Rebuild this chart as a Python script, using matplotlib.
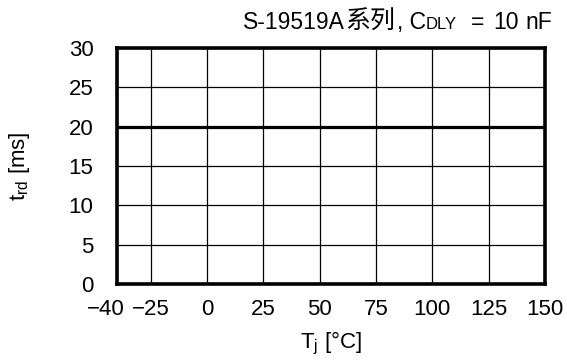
import numpy as np
import matplotlib
matplotlib.use('Agg')
import matplotlib.pyplot as plt
import matplotlib.transforms as mtransforms

plt.rcParams['font.family'] = ['Liberation Sans', 'Noto Sans CJK SC', 'DejaVu Sans']
plt.rcParams['mathtext.fontset'] = 'custom'
plt.rcParams['mathtext.rm'] = 'Liberation Sans'
plt.rcParams['mathtext.default'] = 'regular'

# data
temp = [-40, 150]
t_rd = [20, 20]
x_ticks = [-40, -25, 0, 25, 50, 75, 100, 125, 150]
y_ticks = [0, 5, 10, 15, 20, 25, 30]

fs = 16
W, H = 567, 360
fig = plt.figure(figsize=(W / 100, H / 100), dpi=100)
ax = fig.add_axes([117 / W, 1 - 284 / H, 428 / W, 236 / H])

ax.plot(temp, t_rd, color='black', lw=2.3, solid_capstyle='butt', zorder=3)

ax.set_xlim(-40, 150)
ax.set_ylim(0, 30)
ax.set_xticks(x_ticks)
ax.set_yticks(y_ticks)
ax.set_xticklabels(['\u221240', '\u221225'] + [str(v) for v in x_ticks[2:]])
ax.tick_params(length=0, labelsize=fs)
ax.tick_params(axis='x', pad=11)
ax.tick_params(axis='y', pad=17)
ax.grid(True, color='black', lw=0.9)
for s in ax.spines.values():
    s.set_linewidth(2.6)

# -40 label is nudged left so it clears -25
lab = ax.get_xticklabels()[0]
lab.set_transform(lab.get_transform() + mtransforms.ScaledTranslation(-11.5 / 100, 0, fig.dpi_scale_trans))

fig.text(20 / W, 1 - 166 / H, r't$_{rd}$ [ms]', fontsize=fs, rotation=90, ha='center', va='center')
fig.text(331 / W, 1 - 343 / H, r'T$_{j}$ [°C]', fontsize=fs, ha='center', va='center')

# title in pieces, laid out one after another (CJK part + small subscript)
renderer = fig.canvas.get_renderer()
title_parts = [('S-19519A', 16.5, 0), ('系列', 18, 0), (', C', 16.5, 2), ('DLY', 12, 0)]
x = 243
for txt, size, gap in title_parts:
    t = fig.text((x + gap) / W, 1 - 29 / H, txt, fontsize=size, va='baseline', ha='left')
    x = t.get_window_extent(renderer).x1
for txt, px in [('=', 471), ('10', 493), ('nF', 525)]:
    fig.text(px / W, 1 - 29 / H, txt, fontsize=16.5, va='baseline', ha='left')

fig.savefig('out.png', dpi=100)
